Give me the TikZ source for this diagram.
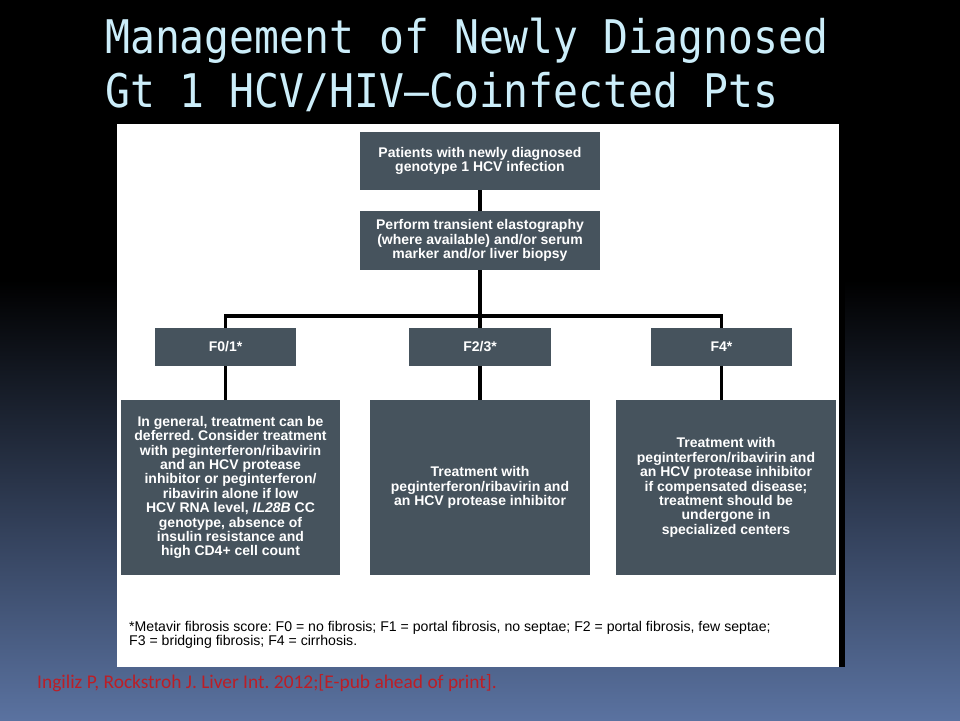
\documentclass[tikz,border=0pt]{standalone}
\usepackage{fontspec}
\setmainfont{Liberation Sans}
\newfontfamily\titlefont{DejaVu Sans Mono}
\newfontfamily\citefont{Carlito}
\definecolor{boxgray}{RGB}{70,83,93}
\definecolor{titlecyan}{RGB}{204,238,250}
\definecolor{slateblue}{RGB}{90,114,160}
\definecolor{citered}{RGB}{188,30,38}
\frenchspacing

\begin{document}
\begin{tikzpicture}[x=1pt,y=-1pt,
    stagebox/.style={fill=boxgray,text=white,align=center,inner sep=0pt,
        font=\fontsize{14}{14.4}\selectfont\bfseries},
    titleline/.style={anchor=base west,inner sep=0pt,text=titlecyan,
        font=\titlefont\fontsize{41.4}{41.4}\selectfont},
    noteline/.style={anchor=base west,inner sep=0pt,
        font=\fontsize{14.1}{14.5}\selectfont},
    link/.style={line width=3.5pt,black}]
\useasboundingbox (0,0) rectangle (960,720);
\fill[black] (0,0) rectangle (960,720);
\shade[top color=black,bottom color=slateblue] (0,280) rectangle (960,720);
% title
\node[titleline] (title1) at (105,53) {\scalebox{1}[1.12]{Management of Newly Diagnosed}};
\node[titleline] (title2) at (105,107) {\scalebox{1}[1.12]{Gt 1 HCV/HIV–Coinfected Pts}};
% white panel
\fill[white] (117,124) rectangle (839,667);
\fill[black] (839,124) rectangle (845,667);
% boxes
\node[stagebox,minimum width=240pt,minimum height=58pt] (newdx) at (480,161)
    {Patients with newly diagnosed\\genotype 1 HCV infection};
\node[stagebox,minimum width=240pt,minimum height=59pt] (assess) at (480,240.5)
    {Perform transient elastography\\(where available) and/or serum\\marker and/or liver biopsy};
\node[stagebox,minimum width=141pt,minimum height=38pt] (f01) at (225.5,347) {F0/1*};
\node[stagebox,minimum width=142pt,minimum height=38pt] (f23) at (480,347) {F2/3*};
\node[stagebox,minimum width=141pt,minimum height=38pt] (f4) at (721.5,347) {F4*};
\node[stagebox,minimum width=219pt,minimum height=175pt] (t01) at (230.5,487.5)
    {In general, treatment can be\\deferred. Consider treatment\\with peginterferon/ribavirin\\and an HCV protease\\inhibitor or peginterferon/\\ribavirin alone if low\\HCV RNA level, \textit{IL28B} CC\\genotype, absence of\\insulin resistance and\\high CD4+ cell count};
\node[stagebox,minimum width=220pt,minimum height=175pt] (t23) at (480,487.5)
    {Treatment with\\peginterferon/ribavirin and\\an HCV protease inhibitor};
\node[stagebox,minimum width=220pt,minimum height=175pt] (t4) at (726,487.5)
    {Treatment with\\peginterferon/ribavirin and\\an HCV protease inhibitor\\if compensated disease;\\treatment should be\\undergone in\\specialized centers};
% connectors
\coordinate (split) at (480,316);
\draw[link] (newdx) -- (assess);
\draw[link] (assess.south) -- (split);
\draw[link] (f01.north) |- (split) -| (f4.north);
\draw[link] (split) -- (f23.north);
\draw[link] (f01.south) -- (f01.south |- t01.north);
\draw[link] (f23) -- (t23);
\draw[link] (f4.south) -- (f4.south |- t4.north);
% footnote and source
\node[noteline] (note1) at (129,631) {*Metavir fibrosis score: F0 = no fibrosis; F1 = portal fibrosis, no septae; F2 = portal fibrosis, few septae;};
\node[noteline] (note2) at (129,645.5) {F3 = bridging fibrosis; F4 = cirrhosis.};
\node[anchor=base west,inner sep=0pt,text=citered,font=\citefont\fontsize{19.4}{20}\selectfont] (cite) at (37,688)
    {Ingiliz P, Rockstroh J. Liver Int. 2012;[E-pub ahead of print].};
\end{tikzpicture}
\end{document}
